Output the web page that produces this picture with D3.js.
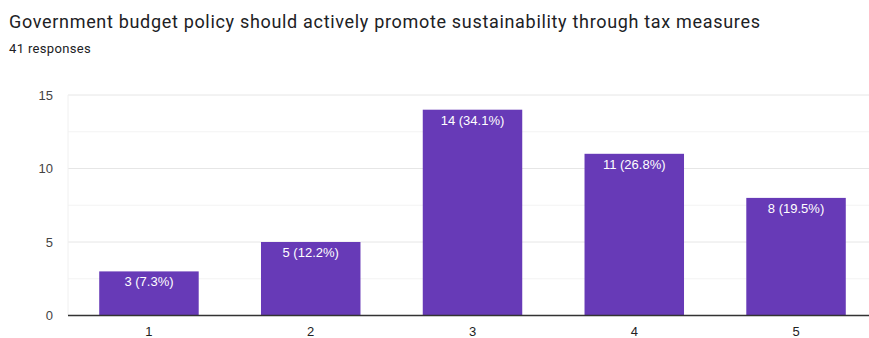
<!DOCTYPE html>
<html><head><meta charset="utf-8">
<script src="https://cdn.jsdelivr.net/npm/d3@7"></script>
<style>
html,body{margin:0;padding:0;background:#fff;}
svg{display:block;font-family:"Liberation Sans", Arial, sans-serif;}
</style></head>
<body>
<svg id="chart" width="869" height="338"></svg>
<script>
const title = "Government budget policy should actively promote sustainability through tax measures";
const subtitle = "41 responses";
const categories = ["1","2","3","4","5"];
const counts = [3, 5, 14, 11, 8];
const labels = ["3 (7.3%)","5 (12.2%)","14 (34.1%)","11 (26.8%)","8 (19.5%)"];
const yTicks = [0, 5, 10, 15];
const yMinor = [2.5, 7.5, 12.5];

(function () {
const svg = d3.select("#chart");
const W = 869, H = 338;
const mLeft = 68, mRight = 877, mTop = 95, mBottom = 315.5;
const chartFont = '"Liberation Sans", Arial, sans-serif';

svg.append("rect").attr("width", W).attr("height", H).attr("fill", "#fff");

svg.append("text").attr("x", 9).attr("y", 28)
  .attr("font-family", "Roboto, sans-serif")
  .attr("font-size", 18).attr("letter-spacing", "0.68px")
  .attr("fill", "#202124").text(title);
svg.append("text").attr("x", 9).attr("y", 53)
  .attr("font-family", "Roboto, sans-serif")
  .attr("font-size", 13).attr("letter-spacing", "0.35px")
  .attr("fill", "#202124").text(subtitle);

const x = d3.scaleBand().domain(categories).range([mLeft, mRight]).paddingInner(0.385).paddingOuter(0.193);
const y = d3.scaleLinear().domain([0, 15]).range([mBottom, mTop]);

svg.append("g").selectAll("line").data(yMinor).join("line")
  .attr("x1", mLeft).attr("x2", mRight)
  .attr("y1", d => y(d)).attr("y2", d => y(d))
  .attr("stroke", "#f3f3f3").attr("stroke-width", 1);
svg.append("g").selectAll("line").data(yTicks.filter(d => d > 0)).join("line")
  .attr("x1", mLeft).attr("x2", mRight)
  .attr("y1", d => y(d)).attr("y2", d => y(d))
  .attr("stroke", "#e6e6e6").attr("stroke-width", 1);
svg.append("line").attr("x1", mLeft).attr("x2", mLeft).attr("y1", mTop).attr("y2", mBottom)
  .attr("stroke", "#f0f0f0").attr("stroke-width", 1);

const yAxis = d3.axisLeft(y).tickValues(yTicks).tickSize(0).tickPadding(15);
const gy = svg.append("g").attr("transform", `translate(${mLeft},0)`).call(yAxis);
gy.select(".domain").remove();
gy.selectAll("text").attr("font-size", 13).attr("fill", "#444").attr("font-family", chartFont);

svg.append("g").selectAll("rect").data(counts).join("rect")
  .attr("x", (d, i) => x(categories[i]))
  .attr("width", x.bandwidth())
  .attr("y", d => y(d))
  .attr("height", d => y(0) - y(d))
  .attr("fill", "#673ab7");

svg.append("g").selectAll("text").data(counts).join("text")
  .attr("x", (d, i) => x(categories[i]) + x.bandwidth() / 2)
  .attr("y", d => y(d) + 15)
  .attr("text-anchor", "middle")
  .attr("font-family", chartFont)
  .attr("font-size", 13).attr("fill", "#fff")
  .text((d, i) => labels[i]);

const xAxis = d3.axisBottom(x).tickSize(0).tickPadding(11);
const gx = svg.append("g").attr("transform", `translate(0,${mBottom})`).call(xAxis);
gx.select(".domain").attr("stroke", "#333").attr("stroke-width", 1.5).attr("d", `M${mLeft},0H${mRight}`);
gx.selectAll("text").attr("font-size", 13).attr("fill", "#222").attr("font-family", chartFont);
})();
</script>
</body></html>
